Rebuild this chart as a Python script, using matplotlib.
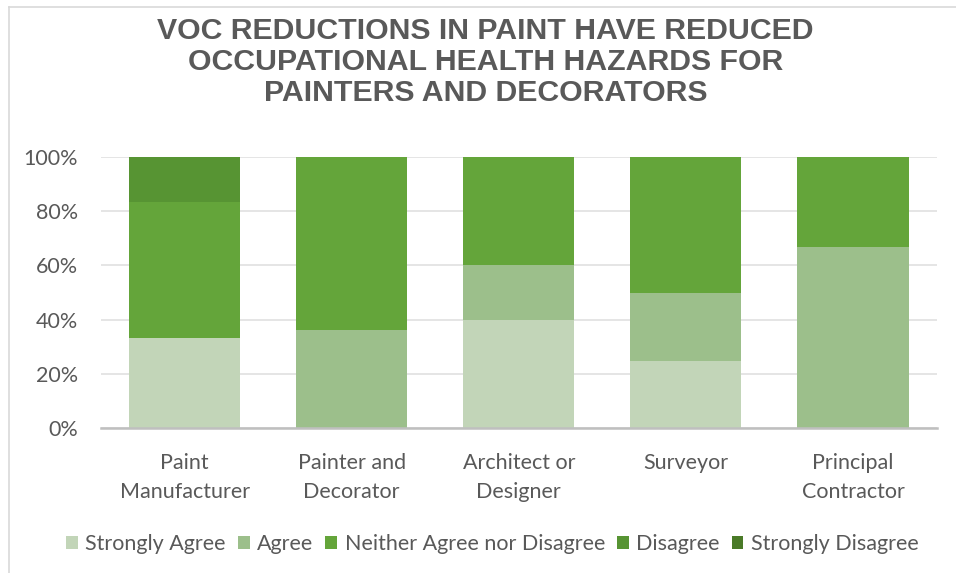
import matplotlib
matplotlib.use("Agg")
import matplotlib.pyplot as plt
from matplotlib.patches import Patch
from matplotlib.lines import Line2D

categories = ["Paint\nManufacturer", "Painter and\nDecorator", "Architect or\nDesigner",
              "Surveyor", "Principal\nContractor"]
series_names = ["Strongly Agree", "Agree", "Neither Agree nor Disagree",
                "Disagree", "Strongly Disagree"]
strongly_agree = [33.3, 0.0, 40.0, 25.0, 0.0]
agree = [0.0, 36.4, 20.0, 25.0, 66.7]
neither = [50.0, 63.6, 40.0, 50.0, 33.3]
disagree = [16.7, 0.0, 0.0, 0.0, 0.0]
strongly_disagree = [0.0, 0.0, 0.0, 0.0, 0.0]
y_ticks = [0, 20, 40, 60, 80, 100]
y_tick_labels = ["0%", "20%", "40%", "60%", "80%", "100%"]
title = "VOC REDUCTIONS IN PAINT HAVE REDUCED\nOCCUPATIONAL HEALTH HAZARDS FOR\nPAINTERS AND DECORATORS"

colors = ["#c2d5b8", "#9cbf8b", "#64a53a", "#579433", "#4a7a28"]
text_gray = "#595959"
body_font = ["Lato", "DejaVu Sans"]
body_size = 15.5

fig = plt.figure(figsize=(9.56, 5.73), dpi=100)
ax = fig.add_axes([0.1057, 0.2522, 0.874, 0.4743])

x = list(range(len(categories)))
bottom = [0.0] * len(categories)
for name, vals, col in zip(series_names,
                           [strongly_agree, agree, neither, disagree, strongly_disagree],
                           colors):
    ax.bar(x, vals, bottom=bottom, width=0.665, color=col, label=name, zorder=3)
    bottom = [b + v for b, v in zip(bottom, vals)]

ax.set_xlim(-0.5, len(categories) - 0.5)
ax.set_ylim(0, 100)
ax.set_yticks(y_ticks)
ax.set_yticklabels(y_tick_labels)
ax.set_xticks(x)
ax.set_xticklabels(categories, linespacing=1.55)
for lab in ax.get_xticklabels() + ax.get_yticklabels():
    lab.set_family(body_font)
    lab.set_fontsize(body_size)
    lab.set_color(text_gray)

ax.tick_params(axis="both", length=0)
ax.tick_params(axis="x", pad=18)
ax.tick_params(axis="y", pad=16.5)
ax.grid(axis="y", color="#e3e3e3", linewidth=1.3, zorder=0)
for side in ["top", "right", "left"]:
    ax.spines[side].set_visible(False)
ax.spines["bottom"].set_color("#bfbfbf")
ax.spines["bottom"].set_linewidth(1.8)
ax.spines["bottom"].set_zorder(4)

fig.text(0.508, 0.970, title, ha="center", va="top", fontsize=21.8, fontweight="bold",
         color=text_gray, family=["Liberation Sans", "DejaVu Sans"], linespacing=1.13)

handles = [Patch(facecolor=c, edgecolor="none") for c in colors]
leg = fig.legend(handles, series_names, loc="center", bbox_to_anchor=(0.515, 0.05),
                 ncol=5, frameon=False, handlelength=0.55, handleheight=0.55,
                 handletextpad=0.35, columnspacing=0.55,
                 prop={"family": body_font, "size": body_size})
for t in leg.get_texts():
    t.set_color(text_gray)

# chart frame edges
fig.add_artist(Line2D([0.009, 0.009], [0.0, 0.988], transform=fig.transFigure,
                      color="#d9d9d9", linewidth=1.2))
fig.add_artist(Line2D([0.009, 1.0], [0.988, 0.988], transform=fig.transFigure,
                      color="#d9d9d9", linewidth=1.2))

fig.savefig("out.png", dpi=100)
